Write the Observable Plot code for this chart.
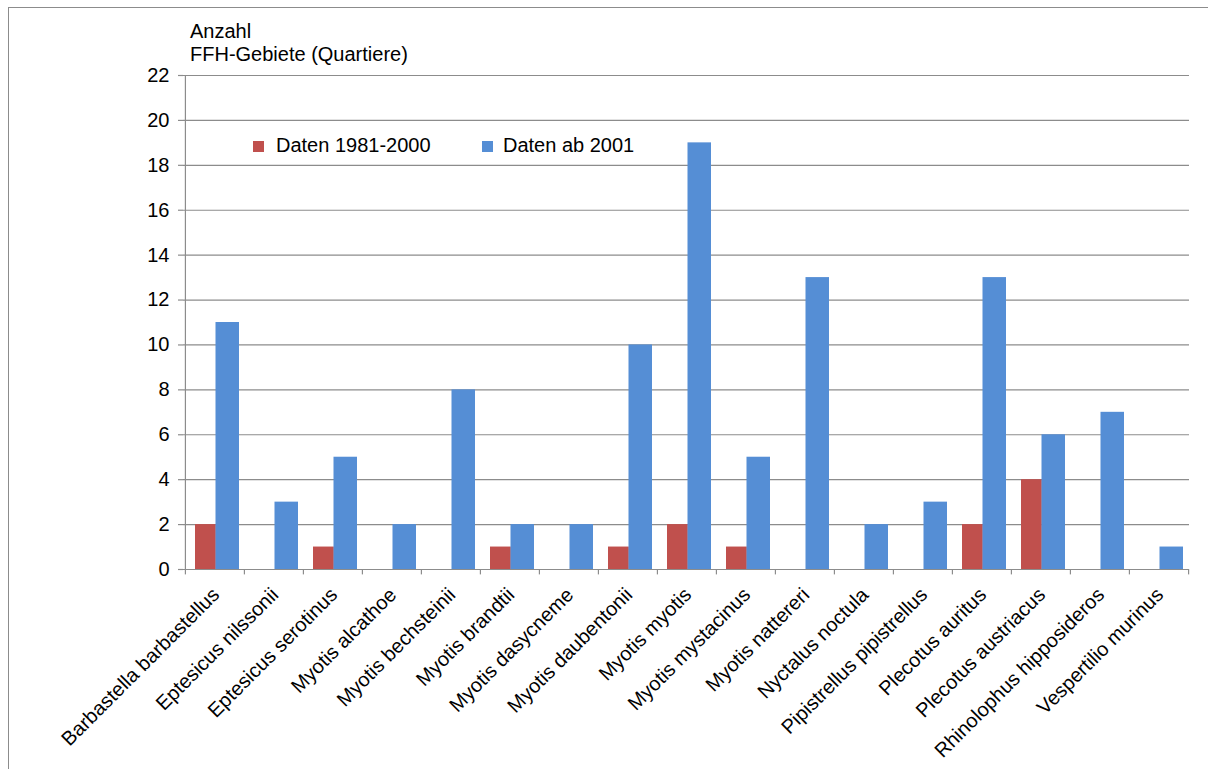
<!DOCTYPE html>
<html>
<head>
<meta charset="utf-8">
<script src="https://cdn.jsdelivr.net/npm/d3@7"></script>
<script src="https://cdn.jsdelivr.net/npm/@observablehq/plot@0.6"></script>
<style>
  html, body { margin: 0; padding: 0; background: #fff; }
  #wrap { position: relative; width: 1208px; height: 769px; overflow: hidden; font-family: "Liberation Sans", Arial, sans-serif; }
  #frame { position: absolute; left: 8px; top: 7px; width: 1400px; height: 1000px; border-left: 1.5px solid #8c8c8c; border-top: 1.5px solid #8c8c8c; box-sizing: border-box; }
  #title { position: absolute; left: 190px; top: 19.5px; font-size: 20px; line-height: 23px; color: #000; white-space: nowrap; }
  .legtext { position: absolute; top: 135px; font-size: 20px; line-height: 20px; color: #000; white-space: nowrap; }
  .sw { position: absolute; top: 141px; width: 11px; height: 11px; }
  #chart { position: absolute; left: 0; top: 0; }
</style>
</head>
<body>
<div id="wrap">
  <div id="frame"></div>
  <div id="chart"></div>
  <div id="title">Anzahl<br>FFH-Gebiete (Quartiere)</div>
  <div class="sw" style="left:253px;background:#C0504D"></div>
  <div class="legtext" style="left:276px">Daten 1981-2000</div>
  <div class="sw" style="left:482px;background:#558ED5"></div>
  <div class="legtext" style="left:503px">Daten ab 2001</div>
</div>
<script>
const species = [
  "Barbastella barbastellus", "Eptesicus nilssonii", "Eptesicus serotinus",
  "Myotis alcathoe", "Myotis bechsteinii", "Myotis brandtii", "Myotis dasycneme",
  "Myotis daubentonii", "Myotis myotis", "Myotis mystacinus", "Myotis nattereri",
  "Nyctalus noctula", "Pipistrellus pipistrellus", "Plecotus auritus",
  "Plecotus austriacus", "Rhinolophus hipposideros", "Vespertilio murinus"
];
const daten1981_2000 = [2, 0, 1, 0, 0, 1, 0, 1, 2, 1, 0, 0, 0, 2, 4, 0, 0];
const datenAb2001   = [11, 3, 5, 2, 8, 2, 2, 10, 19, 5, 13, 2, 3, 13, 6, 7, 1];
const yTicks = [0, 2, 4, 6, 8, 10, 12, 14, 16, 18, 20, 22];

const oldData = species.map((s, i) => ({species: s, value: daten1981_2000[i]}));
const newData = species.map((s, i) => ({species: s, value: datenAb2001[i]}));

const W = 1208, H = 769;
const mL = 183, mR = 19, mT = 75, mB = 200;
const bw = (W - mL - mR) / species.length;

const chart = Plot.plot({
  width: W,
  height: H,
  marginLeft: mL,
  marginRight: mR,
  marginTop: mT,
  marginBottom: mB,
  style: {fontFamily: "Liberation Sans, Arial, sans-serif", fontSize: "20px", color: "#000", background: "transparent", overflow: "visible"},
  x: {domain: species, padding: 0, label: null},
  y: {domain: [0, 22], label: null},
  marks: [
    Plot.ruleY(yTicks.filter(d => d > 0), {stroke: "#8c8c8c", strokeWidth: 1.2}),
    Plot.barY(oldData, {x: "species", y: "value", fill: "#C0504D", insetLeft: 10, insetRight: bw - 31}),
    Plot.barY(newData, {x: "species", y: "value", fill: "#558ED5", insetLeft: 30.5, insetRight: 5}),
    Plot.ruleY([0], {stroke: "#8c8c8c", strokeWidth: 1.2}),
    Plot.ruleX([species[0]], {x: d => d, dx: -bw / 2, stroke: "#8c8c8c", strokeWidth: 1.2}),
    Plot.ruleX(species, {x: d => d, y1: 0, y2: -0.24, dx: -bw / 2, stroke: "#8c8c8c", strokeWidth: 1.2}),
    Plot.ruleX([species[species.length - 1]], {x: d => d, y1: 0, y2: -0.24, dx: bw / 2, stroke: "#8c8c8c", strokeWidth: 1.2}),
    Plot.axisY({ticks: yTicks, tickSize: 5, tickPadding: 9, stroke: "#8c8c8c", strokeWidth: 1.2, fontSize: 20, label: null}),
    Plot.axisX({tickSize: 0, tickRotate: -45, tickPadding: 22, dx: 1, fontSize: 20, label: null})
  ]
});
document.getElementById("chart").appendChild(chart);
</script>
</body>
</html>
